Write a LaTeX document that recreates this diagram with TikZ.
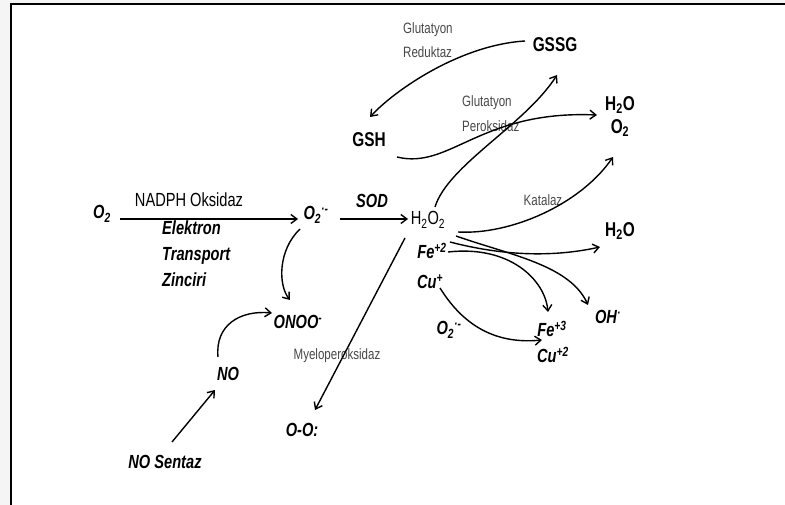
\documentclass[tikz,border=0pt]{standalone}
\usepackage{fontspec}
\setmainfont{Liberation Sans}[FakeStretch=0.77]
\usetikzlibrary{arrows.meta,calc}
\tikzset{
  lbl/.style={inner sep=0pt, font=\fontsize{19}{22}\selectfont\bfseries\itshape},
  plain/.style={inner sep=0pt, font=\fontsize{19}{22}\selectfont},
  chem/.style={inner sep=0pt, font=\fontsize{20}{22}\selectfont\bfseries},
  enz/.style={inner sep=0pt, font=\fontsize{15}{17}\selectfont, text=black!72},
  arr/.style={line width=1.4pt, -{Straight Barb[length=6pt,width=9pt]}},
  frame/.style={line width=2pt}
}
\begin{document}
\begin{tikzpicture}[x=1pt,y=-1pt]
\useasboundingbox (0,0) rectangle (785,505);
\fill[black!4] (0,0) rectangle (785,4);
\fill[black!4] (0,0) rectangle (11,505);
\draw[frame] (11,505) -- (11,4) -- (785,4);

% nodes
\node[lbl] (o2l) at (102,214) {O\textsubscript{2}};
\node[plain] (nadph) at (189,200) {NADPH Oksidaz};
\node[lbl, align=left, anchor=north west, font=\fontsize{19}{26}\selectfont\bfseries\itshape] (etz) at (162,221) {Elektron\\Transport\\Zinciri};
\node[lbl] (o2r) at (316,215) {O\textsubscript{2}\textsuperscript{·-}};
\node[lbl] (sod) at (372,201) {SOD};
\node[plain] (h2o2) at (428,220) {H\textsubscript{2}O\textsubscript{2}};
\node[lbl] (fe2) at (432,251) {Fe\textsuperscript{+2}};
\node[lbl] (cu1) at (430,282) {Cu\textsuperscript{+}};
\node[lbl] (o2low) at (449,330) {O\textsubscript{2}\textsuperscript{·-}};
\node[lbl] (fe3) at (552,329) {Fe\textsuperscript{+3}};
\node[lbl] (cu2) at (553,355) {Cu\textsuperscript{+2}};
\node[lbl] (oh) at (608,317) {OH\textsuperscript{·}};
\node[chem] (h2omid) at (620,231) {H\textsubscript{2}O};
\node[chem] (h2otop) at (620,105) {H\textsubscript{2}O};
\node[chem] (o2top) at (620,128) {O\textsubscript{2}};
\node[chem] (gssg) at (555,45) {GSSG};
\node[chem] (gsh) at (369,140) {GSH};
\node[enz, anchor=west] (glut1) at (403,30) {Glutatyon};
\node[enz, anchor=west] (redk) at (403,52) {Reduktaz};
\node[enz, anchor=west] (glut2) at (462,103) {Glutatyon};
\node[enz, anchor=west] (perok) at (462,126) {Peroksidaz};
\node[enz] (katalaz) at (543,200) {Katalaz};
\node[enz] (myelo) at (337,356) {Myeloperoksidaz};
\node[lbl] (onoo) at (298,322) {ONOO\textsuperscript{-}};
\node[lbl] (no) at (228,374) {NO};
\node[lbl] (nosentaz) at (165,462) {NO Sentaz};
\node[lbl] (oo) at (302,430) {O-O:};

% connectors
\draw[arr] ($(o2l)+(18,5)$) -- ($(o2r)+(-18,4)$);
\draw[arr] ($(o2r)+(24,4)$) -- ($(h2o2)+(-20,-1)$);
\draw[arr] ($(o2r)+(-16,14)$) .. controls (278,250) and (278,285) .. ($(onoo)+(-8,-22)$);
\draw[arr] ($(no)+(-10,-17)$) .. controls (215,325) and (240,310) .. ($(onoo)+(-26,-9)$);
\draw[arr] ($(nosentaz)+(7,-20)$) -- ($(no)+(-13,16)$);
\draw[arr] ($(h2o2)+(-23,18)$) -- ($(oo)+(13,-20)$);
\draw[arr] ($(h2o2)+(7,-13)$) .. controls (448,165) and (525,125) .. ($(gssg)+(2,30)$);
\draw[arr] ($(gsh)+(28,17)$) .. controls (450,170) and (480,110) .. ($(h2otop)+(-23,10)$);
\draw[arr] ($(gssg)+(-30,-4)$) .. controls (460,45) and (395,90) .. ($(gsh)+(1,-23)$);
\draw[arr] ($(h2o2)+(30,12)$) .. controls (510,235) and (580,205) .. ($(o2top)+(-7,29)$);
\draw[arr] ($(h2o2)+(22,22)$) .. controls (500,255) and (550,258) .. ($(h2omid)+(-20,16)$);
\draw[arr] ($(h2o2)+(28,16)$) .. controls (510,255) and (570,265) .. ($(oh)+(-20,-12)$);
\draw[arr] ($(fe2)+(16,1)$) .. controls (510,245) and (545,280) .. ($(fe3)+(-4,-17)$);
\draw[arr] ($(cu1)+(10,6)$) .. controls (460,320) and (490,345) .. ($(fe3)+(-10,11)$);
\end{tikzpicture}
\end{document}
